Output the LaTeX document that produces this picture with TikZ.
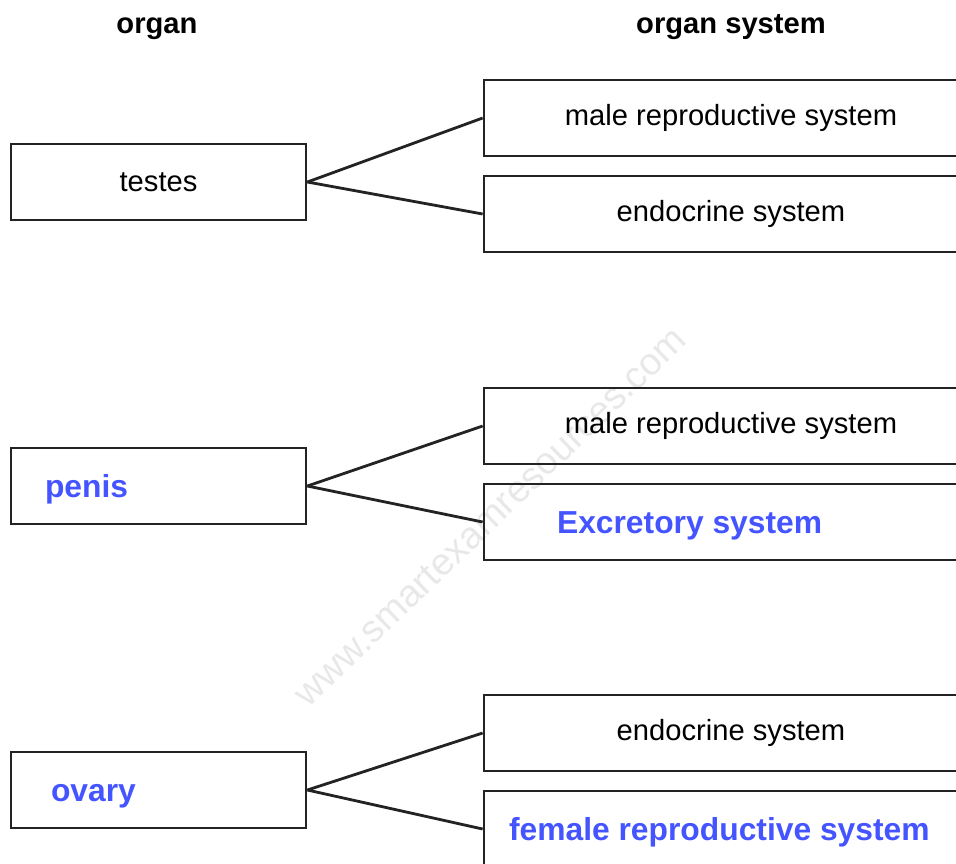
\documentclass[tikz,border=0pt]{standalone}
\usepackage{fontspec}
\setmainfont{Liberation Sans}
\usetikzlibrary{positioning}
\definecolor{linec}{RGB}{35,35,35}
\definecolor{ansblue}{RGB}{68,84,255}

\begin{document}
\begin{tikzpicture}
[x=0.02cm, y=-0.02cm,
organ/.style ={rectangle, draw=linec, line width=1.6pt,
minimum width=5.9cm, minimum height=1.52cm, inner sep=0pt,
font=\fontsize{16.6}{19}\selectfont},
system/.style ={organ, minimum width=9.88cm},
answer/.style ={text=ansblue, align=flush left, text height=16.5pt, text depth=3.8pt,
font=\bfseries\fontsize{18.1}{21}\selectfont},
head/.style ={anchor=base, font=\bfseries\fontsize{16.6}{19}\selectfont},
link/.style ={draw=linec, line width=1.6pt}]

\useasboundingbox (0,0) rectangle (956,863);

% watermark
\node (mark) [rotate=44, text=black!9, font=\fontsize{21.6}{24}\selectfont] at (490,517) {www.smartexamresources.com};

% headings
\node (hOrgan) [head] at (157,33) {organ};
\node (hSystem) [head] at (731,33) {organ system};

% row 1
\node (testes) [organ] at (158.5,182) {testes};
\node (male1) [system] at (731,118) {male reproductive system};
\node (endo1) [system] at (731,214) {endocrine system};
% row 2
\node (penis) [organ, answer, inner xsep=0.68cm, text width=4.54cm] at (158.5,486) {penis};
\node (male2) [system] at (731,426) {male reproductive system};
\node (excr) [system, answer, inner xsep=1.46cm, text width=6.96cm] at (731,522) {Excretory system};
% row 3
\node (ovary) [organ, answer, inner xsep=0.8cm, text width=4.3cm] at (158.5,790) {ovary};
\node (endo2) [system] at (731,733) {endocrine system};
\node (female) [system, answer, inner xsep=0.5cm, text width=8.88cm] at (731,829) {female reproductive system};

\draw[link] (testes.east) -- (male1.west);
\draw[link] (testes.east) -- (endo1.west);
\draw[link] (penis.east) -- (male2.west);
\draw[link] (penis.east) -- (excr.west);
\draw[link] (ovary.east) -- (endo2.west);
\draw[link] (ovary.east) -- (female.west);
\end{tikzpicture}
\end{document}
